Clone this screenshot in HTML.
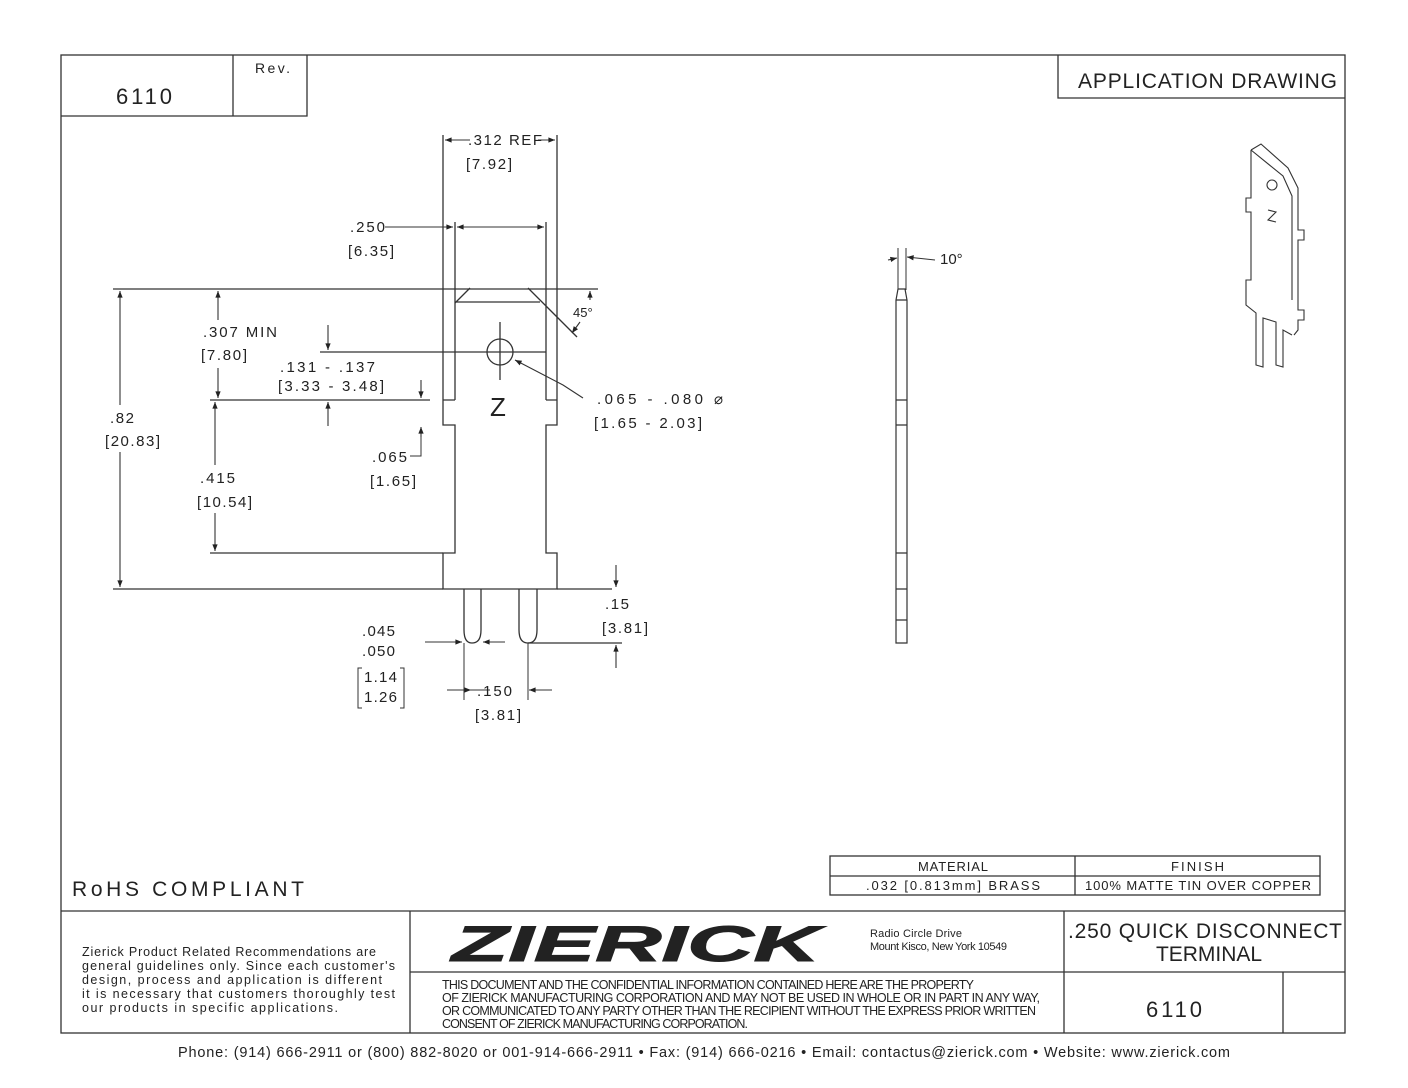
<!DOCTYPE html>
<html><head><meta charset="utf-8"><style>
html,body{margin:0;padding:0;background:#fff}
svg{display:block}
text{font-family:"Liberation Sans",sans-serif;fill:#222}
</style></head><body>
<svg width="1408" height="1088" viewBox="0 0 1408 1088" xmlns="http://www.w3.org/2000/svg">
<defs>
<marker id="a" viewBox="0 0 10 10" refX="10" refY="5" markerWidth="9" markerHeight="6" orient="auto-start-reverse"><path d="M0,1 L10,5 L0,9z" fill="#222"/></marker>
</defs>
<g stroke="#333" stroke-width="1.3" fill="none">
<rect x="61" y="55" width="1284" height="978"/>
<path d="M61,116 H307 V55 M233,55 V116"/>
<path d="M1058,55 V98 H1345"/>
<path d="M61,911 H1345 M410,911 V1033 M1064,911 V1033 M410,972 H1345 M1283,972 V1033"/>
<rect x="830" y="856" width="490" height="39"/>
<path d="M830,876 H1320 M1075,856 V895"/>
</g>
<g font-size="20">
<text x="116" y="104" font-size="22" textLength="56">6110</text>
<text x="255" y="73" font-size="14" textLength="35">Rev.</text>
<text x="1078" y="88" font-size="21" textLength="259">APPLICATION DRAWING</text>
<text x="72" y="896" font-size="21" textLength="232">RoHS COMPLIANT</text>
<text x="1068" y="938" font-size="21" textLength="274">.250 QUICK DISCONNECT</text>
<text x="1156" y="961" font-size="21" textLength="106">TERMINAL</text>
<text x="1146" y="1017" font-size="22" textLength="56">6110</text>
</g>
<g font-size="13">
<text x="918" y="871" textLength="70">MATERIAL</text>
<text x="1171" y="871" textLength="53">FINISH</text>
<text x="866" y="890" textLength="174">.032 [0.813mm] BRASS</text>
<text x="1085" y="890" textLength="226">100% MATTE TIN OVER COPPER</text>
</g>
<g font-size="12.5">
<text x="82" y="956" textLength="294">Zierick Product Related Recommendations are</text>
<text x="82" y="970" textLength="313">general guidelines only. Since each customer's</text>
<text x="82" y="984" textLength="300">design, process and application is different</text>
<text x="82" y="998" textLength="313">it is necessary that customers thoroughly test</text>
<text x="82" y="1012" textLength="256">our products in specific applications.</text>
<text x="442" y="989" textLength="532">THIS DOCUMENT AND THE CONFIDENTIAL INFORMATION CONTAINED HERE ARE THE PROPERTY</text>
<text x="442" y="1002" textLength="598">OF ZIERICK MANUFACTURING CORPORATION AND MAY NOT BE USED IN WHOLE OR IN PART IN ANY WAY,</text>
<text x="442" y="1015" textLength="594">OR COMMUNICATED TO ANY PARTY OTHER THAN THE RECIPIENT WITHOUT THE EXPRESS PRIOR WRITTEN</text>
<text x="442" y="1028" textLength="306">CONSENT OF ZIERICK MANUFACTURING CORPORATION.</text>
<text x="870" y="937" font-size="11" textLength="92">Radio Circle Drive</text>
<text x="870" y="950" font-size="11" textLength="137">Mount Kisco, New York 10549</text>
</g>
<text x="452" y="961" font-size="50" font-weight="bold" font-style="italic" textLength="368" lengthAdjust="spacingAndGlyphs" fill="#555" stroke="#222" stroke-width="1">ZIERICK</text>
<text x="178" y="1057" font-size="14.5" textLength="1052">Phone: (914) 666-2911 or (800) 882-8020 or 001-914-666-2911 • Fax: (914) 666-0216 • Email: contactus@zierick.com • Website: www.zierick.com</text>

<g stroke="#333" stroke-width="1.3" fill="none">
<path d="M443,135 V400 M557,135 V400 M455,222 V400 M546,222 V400"/>
<path d="M443,400 H455 M546,400 H557 M443,400 V425 H455 V553 H443 V589 H557 V553 H546 V425 H557 V400"/>
<path d="M470,288 L455,303 M528,288 L546,306 M455,302 H540"/>
<path d="M113,289 H598 M210,400 H430 M210,553 H443 M113,589 H443 M557,589 H612 M528,643 H622"/>
<path d="M464,589 V630 Q464,643 472,643 Q481,643 481,630 V589 M519,589 V630 Q519,643 528,643 Q537,643 537,630 V589"/>
<circle cx="500" cy="352" r="13"/>
<path d="M320,352 H546 M500,322 V380"/>
<path d="M546,306 L577,337"/>
</g>
<g stroke="#333" stroke-width="1.1" fill="none" marker-end="url(#a)">
<path d="M120,405 V291"/><path d="M120,452 V587"/>
<path d="M218,320 V291"/><path d="M218,368 V398"/>
<path d="M215,465 V402"/><path d="M215,513 V551"/>
</g>
<g stroke="#333" stroke-width="1.1" fill="none" marker-end="url(#a)" marker-start="url(#a)">
<path d="M457,227 H544"/>
</g>
<g stroke="#333" stroke-width="1.1" fill="none" marker-end="url(#a)">
<path d="M470,140 H445"/><path d="M538,140 H555"/>
<path d="M385,227 H453"/>
<path d="M328,325 V350"/><path d="M328,426 V402"/>
<path d="M421,380 V398"/><path d="M421,437 V427"/>
<path d="M590,300 V291"/><path d="M580,322 L572,333"/>
<path d="M583,398 L563,385 L515,360"/>
<path d="M616,565 V587"/><path d="M616,668 V645"/>
<path d="M425,642 H462"/><path d="M505,642 H483"/>
<path d="M447,690 H471"/><path d="M552,690 H529"/>
<path d="M888,260 L897,258"/><path d="M935,260 L907,257"/>
</g>
<path d="M421,437 V456 H410 M470,690 H490 M362,668 H358 V708 H362 M400,668 H404 V708 H400" stroke="#333" fill="none"/>
<path d="M464,643 V700 M528,643 V700 M898,248 V290 M906,248 V290" stroke="#333" stroke-width="1" fill="none"/>
<g font-size="15">
<text x="468" y="145" textLength="74">.312 REF</text>
<text x="466" y="169" textLength="46">[7.92]</text>
<text x="350" y="232" textLength="35">.250</text>
<text x="348" y="256" textLength="46">[6.35]</text>
<text x="203" y="337" textLength="74">.307 MIN</text>
<text x="201" y="360" textLength="46">[7.80]</text>
<text x="280" y="372" textLength="95">.131 - .137</text>
<text x="278" y="391" textLength="106">[3.33 - 3.48]</text>
<text x="110" y="423" textLength="24">.82</text>
<text x="105" y="446" textLength="55">[20.83]</text>
<text x="372" y="462" textLength="35">.065</text>
<text x="370" y="486" textLength="46">[1.65]</text>
<text x="200" y="483" textLength="35">.415</text>
<text x="197" y="507" textLength="55">[10.54]</text>
<text x="573" y="317" font-size="13">45°</text>
<text x="597" y="404" textLength="126">.065 - .080  ⌀</text>
<text x="594" y="428" textLength="108">[1.65 - 2.03]</text>
<text x="605" y="609" textLength="24">.15</text>
<text x="602" y="633" textLength="46">[3.81]</text>
<text x="362" y="636" textLength="33">.045</text>
<text x="362" y="656" textLength="33">.050</text>
<text x="364" y="682" textLength="33">1.14</text>
<text x="364" y="702" textLength="33">1.26</text>
<text x="477" y="696" textLength="35">.150</text>
<text x="475" y="720" textLength="46">[3.81]</text>
<text x="940" y="264">10°</text>
<text x="490" y="416" font-size="26">Z</text>
</g>
<g stroke="#333" stroke-width="1.2" fill="none">
<path d="M896,643 V300 L898,289 H905 L907,300 V643 Z"/>
<path d="M896,400 H907 M896,425 H907 M896,553 H907 M896,589 H907 M896,620 H907 M896,300 H907"/>
</g>
<g stroke="#333" stroke-width="1.1" fill="none">
<path d="M1251,150 L1261,144 L1288,168 L1298,188 V230 H1304 V240 H1298 V310 H1304 V320 H1298 V330 L1294,335"/>
<path d="M1251,150 L1283,176 L1292,196 V300"/>
<path d="M1251,150 V198 H1246 V212 H1251 V280 H1246 V305 L1256,313 V365 L1263,367 V318 L1276,322 V365 L1283,367 V330 L1292,335"/>
<circle cx="1272" cy="185" r="5"/>
<path d="M1268,210 L1276,212 L1268,220 L1276,222"/>
</g>
</svg>
</body></html>
